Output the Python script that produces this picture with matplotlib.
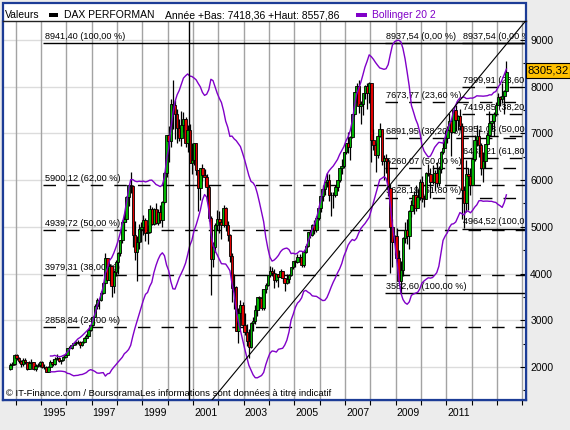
import matplotlib
matplotlib.use('Agg')
import matplotlib.pyplot as plt
from matplotlib.patches import Rectangle
from matplotlib.transforms import ScaledTranslation, blended_transform_factory
import numpy as np
import pandas as pd

plt.rcParams['font.family'] = ['Liberation Sans', 'DejaVu Sans']
plt.rcParams['lines.scale_dashes'] = False

# ---------------- data (monthly candles, DAX) ----------------
first_month = '1993-10'
last_month = '2013-05'

opens = [
    1950, 2047, 2061,
    2267, 2197, 2124, 2056, 2160, 2106, 1967, 2095, 2100, 1947, 2018, 2045,
    2107, 2001, 2010, 1900, 2000, 2110, 2065, 2180, 2200, 2130, 2140, 2220,
    2254, 2400, 2403, 2480, 2520, 2530, 2543, 2470, 2540, 2630, 2670, 2800,
    2889, 3080, 3300, 3430, 3430, 3590, 3790, 4340, 3860, 4170, 3730, 4040,
    4250, 4440, 4710, 5100, 5170, 5640, 5900, 5880, 4830, 4470, 4670, 4950,
    5000, 5150, 4860, 4880, 5390, 5070, 5380, 5080, 5310, 5150, 5530, 6150,
    6960, 6840, 7640, 7600, 7410, 7110, 6900, 7190, 7310, 6800, 7080, 6370,
    6430, 6790, 6210, 5830, 6260, 6120, 6060, 5860, 5190, 4310, 4560, 5050,
    5160, 5110, 5040, 5400, 5040, 4820, 4380, 3700, 3710, 2770, 3150, 3320,
    2890, 2750, 2550, 2420, 2940, 2980, 3220, 3490, 3480, 3260, 3660, 3750,
    3970, 4060, 4020, 3860, 3990, 3920, 4050, 3900, 3790, 3890, 3960, 4130,
    4260, 4250, 4350, 4350, 4180, 4460, 4590, 4890, 4830, 5040, 4930, 5190,
    5410, 5670, 5800, 5970, 6010, 5690, 5680, 5680, 5860, 6000, 6270, 6310,
    6600, 6790, 6720, 6920, 7410, 7880, 8010, 7580, 7640, 7860, 8020, 7870,
    8070, 6850, 6750, 6530, 6950, 7100, 6420, 6480, 6420, 5830, 4990, 4670,
    4810, 4340, 3840, 4080, 4770, 4940, 4810, 5330, 5460, 5680, 5410, 5630,
    5960, 5610, 5600, 6150, 6140, 5960, 5970, 6150, 5930, 6230, 6600, 6690,
    6910, 7080, 7270, 7040, 7510, 7290, 7380, 7160, 5780, 5500, 6140, 6090,
    5900, 6460, 6860, 6950, 6760, 6260, 6420, 6770, 6970, 7220, 7260, 7410,
    7610, 7780, 7740, 7800, 7910,
]
highs = [
    2090, 2110, 2280,
    2280, 2210, 2150, 2200, 2200, 2110, 2120, 2180, 2110, 2060, 2090, 2130,
    2130, 2060, 2020, 2020, 2140, 2170, 2210, 2270, 2220, 2160, 2240, 2280,
    2410, 2450, 2500, 2540, 2560, 2580, 2560, 2560, 2640, 2700, 2820, 2900,
    3100, 3340, 3470, 3450, 3620, 3820, 4440, 4340, 4210, 4180, 4080, 4290,
    4460, 4720, 5140, 5280, 5660, 5920, 6170, 5900, 5120, 4800, 5070, 5100,
    5250, 5200, 5050, 5470, 5420, 5400, 5520, 5390, 5470, 5560, 6170, 6960,
    7160, 7740, 8140, 7720, 7530, 7300, 7480, 7450, 7360, 7170, 7210, 6800,
    6800, 6800, 6210, 6270, 6350, 6240, 6140, 5890, 5230, 4680, 5080, 5360,
    5350, 5160, 5470, 5420, 5120, 4850, 4440, 3980, 3740, 3270, 3440, 3400,
    3160, 2930, 2820, 2960, 3060, 3330, 3500, 3520, 3680, 3660, 3790, 3970,
    4160, 4130, 4090, 4020, 3990, 4100, 4060, 3900, 4000, 4000, 4150, 4270,
    4300, 4420, 4420, 4400, 4500, 4630, 4900, 4940, 5060, 5150, 5230, 5460,
    5680, 5900, 5990, 6160, 6140, 5740, 5740, 5900, 6000, 6270, 6450, 6610,
    6800, 7040, 6940, 7410, 7880, 8090, 8150, 7690, 7870, 8030, 8080, 8100,
    8090, 7100, 6800, 6960, 7230, 7100, 6540, 6560, 6470, 5920, 5170, 4820,
    4980, 4500, 4260, 4780, 5110, 5160, 5370, 5580, 5760, 5890, 5810, 6030,
    6090, 5680, 6170, 6340, 6270, 6320, 6210, 6390, 6300, 6620, 6880, 7080,
    7150, 7440, 7300, 7530, 7600, 7390, 7520, 7230, 5880, 6430, 6270, 6260,
    6610, 6970, 7190, 7100, 6790, 6600, 6780, 7040, 7480, 7390, 7460, 7670,
    7870, 7810, 8070, 7940, 8557.86,
]
lows = [
    1930, 1990, 2050,
    2150, 2080, 2000, 2030, 2060, 1930, 1950, 2060, 1930, 1910, 1990, 2010,
    1980, 1960, 1890, 1900, 1990, 2030, 2050, 2150, 2100, 2070, 2120, 2200,
    2250, 2360, 2380, 2460, 2480, 2490, 2400, 2440, 2520, 2600, 2650, 2780,
    2880, 3060, 3240, 3240, 3420, 3570, 3780, 3830, 3770, 3490, 3580, 3950,
    4000, 4380, 4650, 4940, 5100, 5450, 5720, 4570, 4300, 3830, 4530, 4670,
    4820, 4690, 4630, 4860, 5030, 5030, 5070, 5030, 5080, 5000, 5480, 6060,
    6390, 6720, 7100, 6880, 6800, 6830, 6740, 7020, 6700, 6600, 6370, 6130,
    6320, 6120, 5350, 5570, 5980, 5870, 5550, 5120, 3540, 4130, 4470, 4940,
    4860, 4750, 5000, 4920, 4690, 4250, 3400, 3240, 2760, 2520, 3020, 2860,
    2690, 2440, 2190, 2400, 2770, 2930, 3100, 3220, 3220, 3230, 3580, 3730,
    3930, 3950, 3690, 3810, 3710, 3900, 3810, 3620, 3770, 3800, 3940, 4090,
    4150, 4230, 4250, 4150, 4150, 4430, 4570, 4760, 4810, 4850, 4900, 5150,
    5320, 5560, 5680, 5850, 5550, 5240, 5400, 5630, 5760, 5950, 6130, 6250,
    6550, 6580, 6440, 6900, 7380, 7660, 7430, 7200, 7390, 7740, 7530, 7650,
    6380, 6650, 6170, 6470, 6920, 6320, 6000, 6160, 5650, 4010, 4140, 4400,
    4240, 3830, 3590, 3950, 4650, 4630, 4530, 5210, 5280, 5340, 5410, 5570,
    5530, 5430, 5590, 6090, 5610, 5920, 5770, 5860, 5880, 6150, 6550, 6690,
    6800, 7050, 6510, 7000, 7050, 7080, 7070, 5160, 4970, 5320, 5370, 5690,
    5900, 6410, 6730, 6500, 6100, 5970, 6260, 6740, 6920, 7080, 6950, 7380,
    7600, 7580, 7650, 7418.36, 7880,
]
closes = [
    2047, 2061, 2267,
    2197, 2124, 2056, 2160, 2106, 1967, 2095, 2100, 1947, 2018, 2045, 2107,
    2001, 2010, 1900, 2000, 2110, 2065, 2180, 2200, 2130, 2140, 2220, 2254,
    2400, 2403, 2480, 2520, 2530, 2543, 2470, 2540, 2630, 2670, 2800, 2889,
    3080, 3300, 3430, 3430, 3590, 3790, 4340, 3860, 4170, 3730, 4040, 4250,
    4440, 4710, 5100, 5170, 5640, 5900, 5880, 4830, 4470, 4670, 4950, 5000,
    5150, 4860, 4880, 5390, 5070, 5380, 5080, 5310, 5150, 5530, 6150, 6960,
    6840, 7640, 7600, 7410, 7110, 6900, 7190, 7310, 6800, 7080, 6370, 6430,
    6790, 6210, 5830, 6260, 6120, 6060, 5860, 5190, 4310, 4560, 5050, 5160,
    5110, 5040, 5400, 5040, 4820, 4380, 3700, 3710, 2770, 3150, 3320, 2890,
    2750, 2550, 2420, 2940, 2980, 3220, 3490, 3480, 3260, 3660, 3750, 3970,
    4060, 4020, 3860, 3990, 3920, 4050, 3900, 3790, 3890, 3960, 4130, 4260,
    4250, 4350, 4350, 4180, 4460, 4590, 4890, 4830, 5040, 4930, 5190, 5410,
    5670, 5800, 5970, 6010, 5690, 5680, 5680, 5860, 6000, 6270, 6310, 6600,
    6790, 6720, 6920, 7410, 7880, 8010, 7580, 7640, 7860, 8020, 7870, 8070,
    6850, 6750, 6530, 6950, 7100, 6420, 6480, 6420, 5830, 4990, 4670, 4810,
    4340, 3840, 4080, 4770, 4940, 4810, 5330, 5460, 5680, 5410, 5630, 5960,
    5610, 5600, 6150, 6140, 5960, 5970, 6150, 5930, 6230, 6600, 6690, 6910,
    7080, 7270, 7040, 7510, 7290, 7380, 7160, 5780, 5500, 6140, 6090, 5900,
    6460, 6860, 6950, 6760, 6260, 6420, 6770, 6970, 7220, 7260, 7410, 7610,
    7780, 7740, 7800, 7910, 8305.32,
]

bollinger_period = 20
bollinger_k = 2

# Fibonacci retracement tools drawn on the chart
fib_a_levels = [8941.40, 5900.12, 4939.72, 3979.31, 2858.84]
fib_a_labels = ['8941,40 (100,00 %)', '5900,12 (62,00 %)', '4939,72 (50,00 %)',
                '3979,31 (38,00 %)', '2858,84 (24,00 %)']
fib_b_levels = [8937.54, 7673.77, 6891.95, 6260.07, 5628.19, 3582.60]
fib_b_labels = ['8937,54 (0,00 %)', '7673,77 (23,60 %)', '6891,95 (38,20 %)',
                '6260,07 (50,00 %)', '5628,19 (61,80 %)', '3582,60 (100,00 %)']
fib_c_levels = [8937.54, 7999.91, 7419.85, 6951.03, 6482.21, 4964.52]
fib_c_labels = ['8937,54 (0,00 %)', '7999,91 (23,60 %)', '7419,85 (38,20 %)',
                '6951,03 (50,00 %)', '6482,21 (61,80 %)', '4964,52 (100,00 %)']

y_ticks = [2000, 3000, 4000, 5000, 6000, 7000, 8000, 9000]
x_label_years = [1995, 1997, 1999, 2001, 2003, 2005, 2007, 2009, 2011]
last_value_label = '8305,32'
last_value = 8305.32

# ---------------- figure ----------------
W, H = 570, 430
def fx(px):
    return px / W
def fy(py):
    return 1 - py / H

FS = 7.5
FS_FIB = 6.6
BLUE = '#1c3c96'
PURPLE = '#8000c8'

fig = plt.figure(figsize=(W / 100, H / 100), dpi=100, facecolor='#ececec')
# outer frame (header + chart)
fig.patches.append(Rectangle((fx(3), fy(400)), fx(526) - fx(3), fy(3) - fy(400),
                             transform=fig.transFigure, facecolor='white',
                             edgecolor=BLUE, lw=1.6, zorder=-5))

ax = fig.add_axes([fx(3), fy(400), fx(526) - fx(3), fy(21) - fy(400)])
ax.set_zorder(1)
ax.set_facecolor('white')
ax.set_xlim(1993.5, 2014.15)
ax.set_ylim(1293, 9407)
for s in ['left', 'right', 'bottom']:
    ax.spines[s].set_color(BLUE)
    ax.spines[s].set_linewidth(1.6)
ax.spines['top'].set_color('#222222')
ax.spines['top'].set_linewidth(1.0)

# grid
for yr in range(1994, 2015):
    ax.axvline(yr, color='#a3a3a3', lw=1.0, zorder=0.5)
for v in y_ticks:
    ax.axhline(v, color='#dcdcdc', lw=1.0, zorder=0.4)

# ticks
ax.set_xticks(range(1994, 2015))
ax.set_xticklabels([])
ax.set_xticks([y + 0.5 for y in x_label_years], minor=True)
ax.set_xticklabels([str(y) for y in x_label_years], minor=True)
ax.tick_params(axis='x', which='major', direction='out', length=3.5, width=0.8, color='black')
ax.tick_params(axis='x', which='minor', length=0, pad=6, labelsize=FS)
ax.yaxis.tick_right()
ax.set_yticks(y_ticks)
ax.set_yticklabels([str(v) for v in y_ticks])
ax.set_yticks(np.arange(1500, 9001, 500), minor=True)
ax.tick_params(axis='y', which='major', direction='in', length=4, width=0.8,
               color='black', labelsize=FS, pad=3)
ax.tick_params(axis='y', which='minor', direction='in', length=2.5, width=0.8, color='black')

# dates
months = pd.period_range(first_month, last_month, freq='M')
t = np.array([m.year + (m.month - 0.5) / 12 for m in months])
o = np.array(opens, float)
h = np.array(highs, float)
l = np.array(lows, float)
c = np.array(closes, float)

# fib tools
dash = (0, (9, 8))
xmax = 2014.3
def draw_fib(levels, labels, x0, xl, solid_idx):
    off = ScaledTranslation(0, 1.5 / 72, fig.dpi_scale_trans)
    for i, (lv, lb) in enumerate(zip(levels, labels)):
        ls = '-' if i in solid_idx else dash
        ax.hlines(lv, x0, xmax, colors='black', lw=1.0, linestyles=[ls], zorder=1.5)
        ax.text(xl, lv, lb, fontsize=FS_FIB, ha='left', va='bottom', clip_on=True,
                transform=ax.transData + off, zorder=1.6)

draw_fib(fib_a_levels, fib_a_labels, 1995.08, 1995.16, {0})
draw_fib(fib_b_levels, fib_b_labels, 2008.58, 2008.64, {0, 5})
draw_fib(fib_c_levels, fib_c_labels, 2011.62, 2011.66, {0, 5})

# candles
up = c >= o
col = np.where(up, '#00b400', '#e00000')
ax.vlines(t, l, h, color='black', lw=0.9, zorder=2.9)
ax.bar(t, np.abs(c - o), bottom=np.minimum(o, c), width=0.1, color=col,
       edgecolor='black', linewidth=0.6, zorder=3)

# bollinger bands
cs = pd.Series(c)
mid = cs.rolling(bollinger_period).mean()
sd = cs.rolling(bollinger_period).std(ddof=0)
ax.plot(t, mid + bollinger_k * sd, color=PURPLE, lw=1.0, zorder=3.5)
ax.plot(t, mid - bollinger_k * sd, color=PURPLE, lw=1.0, zorder=3.5)

# drawn lines
ax.axvline(2000.84, color='black', lw=1.0, zorder=4)
ax.axline((2001.85, 1358), (2014.1, 9385), color='black', lw=0.8, zorder=4)

# last value box
bt = blended_transform_factory(fig.transFigure, ax.transData)
fig.patches.append(Rectangle((fx(526), last_value - 120), fx(570) - fx(526), 330,
                             transform=bt, facecolor='#ffc000', edgecolor='black',
                             lw=0.8, zorder=5))
fig.text(fx(528), last_value + 40, last_value_label, transform=bt, fontsize=8.2,
         ha='left', va='center', zorder=6)

# header
ty = fy(15)
fig.text(fx(5), ty, 'Valeurs', fontsize=FS, va='center')
fig.patches.append(Rectangle((fx(49), fy(17)), fx(9), 4 / H, transform=fig.transFigure,
                             facecolor='black', edgecolor='none'))
fig.text(fx(64), ty, 'DAX PERFORMAN', fontsize=FS, va='center')
fig.text(fx(165), ty, 'Année +Bas: 7418,36 +Haut: 8557,86', fontsize=FS, va='center')
fig.patches.append(Rectangle((fx(356), fy(17)), fx(11), 4 / H, transform=fig.transFigure,
                             facecolor=PURPLE, edgecolor='none'))
fig.text(fx(372), ty, 'Bollinger 20 2', fontsize=FS, va='center', color=PURPLE)

# footer
fig.text(fx(6), fy(393), '© IT-Finance.com / BoursoramaLes informations sont données à titre indicatif',
         fontsize=6.8, va='center', zorder=10)

fig.savefig('out.png', dpi=100, facecolor=fig.get_facecolor())
